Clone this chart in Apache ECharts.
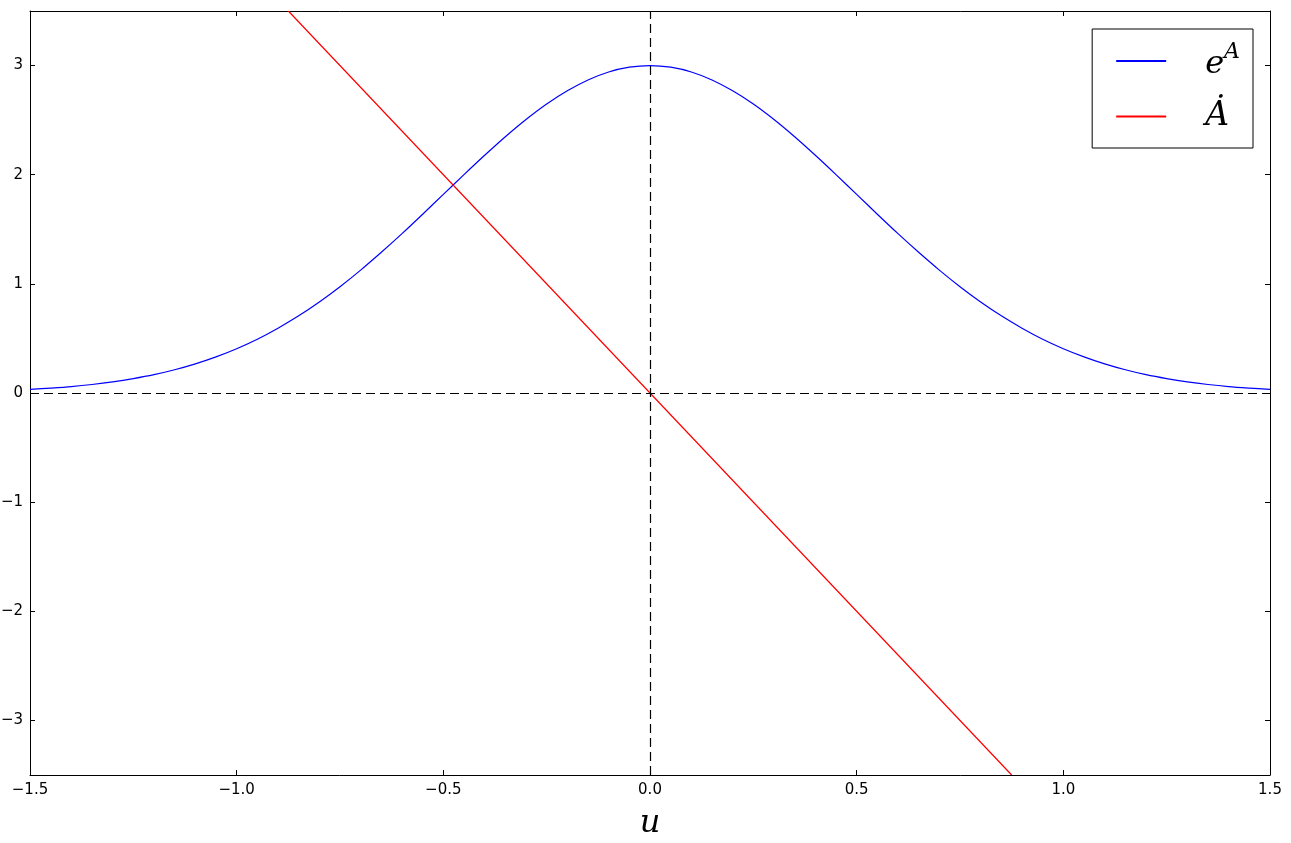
<!DOCTYPE html>
<html>
<head>
<meta charset="utf-8">
<script src="https://cdn.jsdelivr.net/npm/echarts@6/dist/echarts.min.js"></script>
<style>
  html, body { margin: 0; padding: 0; background: #fff; }
  #chart { width: 1291px; height: 843px; }
</style>
</head>
<body>
<div id="chart"></div>
<script>
// u samples
var uValues = [-1.50, -1.45, -1.40, -1.35, -1.30, -1.25, -1.20, -1.15, -1.10, -1.05,
  -1.00, -0.95, -0.90, -0.85, -0.80, -0.75, -0.70, -0.65, -0.60, -0.55,
  -0.50, -0.45, -0.40, -0.35, -0.30, -0.25, -0.20, -0.15, -0.10, -0.05,
  0.00, 0.05, 0.10, 0.15, 0.20, 0.25, 0.30, 0.35, 0.40, 0.45,
  0.50, 0.55, 0.60, 0.65, 0.70, 0.75, 0.80, 0.85, 0.90, 0.95,
  1.00, 1.05, 1.10, 1.15, 1.20, 1.25, 1.30, 1.35, 1.40, 1.45, 1.50];
// blue curve e^A
var expA = [0.033, 0.045, 0.059, 0.078, 0.102, 0.132, 0.168, 0.213, 0.267, 0.331,
  0.406, 0.493, 0.594, 0.707, 0.834, 0.974, 1.126, 1.289, 1.460, 1.638,
  1.820, 2.001, 2.178, 2.348, 2.506, 2.648, 2.769, 2.868, 2.941, 2.985,
  3.000, 2.985, 2.941, 2.868, 2.769, 2.648, 2.506, 2.348, 2.178, 2.001,
  1.820, 1.638, 1.460, 1.289, 1.126, 0.974, 0.834, 0.707, 0.594, 0.493,
  0.406, 0.331, 0.267, 0.213, 0.168, 0.132, 0.102, 0.078, 0.059, 0.045, 0.033];
// red line A-dot (points where it leaves the frame)
var aDotU = [-0.875, 0.0, 0.875];
var aDot = [3.5, 0.0, -3.5];

var yTicks = [-3, -2, -1, 0, 1, 2, 3];

function minus(s) { return String(s).replace('-', '\u2212'); }

var chartDom = document.getElementById('chart');
var myChart = echarts.init(chartDom);

var axisLine = { show: true, onZero: false, lineStyle: { color: '#000', width: 1 } };
var tick = { show: true, inside: true, length: 5, lineStyle: { color: '#000', width: 1 } };
var tickFont = { color: '#000', fontSize: 15, fontFamily: 'DejaVu Sans' };

var option = {
  backgroundColor: '#fff',
  animation: false,
  grid: { left: 30, right: 21, top: 11, bottom: 68, containLabel: false, outerBoundsMode: 'none' },
  legend: {
    orient: 'vertical',
    right: 38,
    top: 29,
    padding: [12, 13, 15, 23],
    borderColor: '#000',
    borderWidth: 1,
    borderRadius: 0,
    itemWidth: 50,
    itemHeight: 14,
    itemGap: 19,
    itemStyle: { opacity: 0 },
    data: ['eA', 'Adot'],
    formatter: function (name) {
      if (name === 'eA') return '{e|e}{s|A}';
      return '{a|\u0226}';
    },
    textStyle: {
      rich: {
        e: { fontFamily: 'DejaVu Serif', fontStyle: 'italic', fontSize: 32, lineHeight: 40,
             padding: [0, 0, 0, 34], verticalAlign: 'bottom', color: '#000' },
        s: { fontFamily: 'DejaVu Serif', fontStyle: 'italic', fontSize: 22, lineHeight: 40,
             verticalAlign: 'top', color: '#000' },
        a: { fontFamily: 'DejaVu Serif', fontStyle: 'italic', fontSize: 33, lineHeight: 40,
             padding: [0, 0, 0, 34], color: '#000' }
      }
    }
  },
  xAxis: [
    {
      type: 'value', min: -1.5, max: 1.5, interval: 0.5, position: 'bottom',
      name: 'u', nameLocation: 'middle', nameGap: 33,
      nameTextStyle: { fontFamily: 'DejaVu Serif', fontStyle: 'italic', fontSize: 32, color: '#000' },
      axisLine: axisLine, axisTick: tick, splitLine: { show: false },
      axisLabel: Object.assign({ margin: 8, formatter: function (v) { return minus(v.toFixed(1)); } }, tickFont)
    },
    {
      type: 'value', min: -1.5, max: 1.5, interval: 0.5, position: 'top',
      axisLine: axisLine, axisTick: tick, splitLine: { show: false }, axisLabel: { show: false }
    }
  ],
  yAxis: [
    {
      type: 'value', min: -3.5, max: 3.5, position: 'left',
      axisLine: axisLine,
      axisTick: Object.assign({ customValues: yTicks }, tick),
      splitLine: { show: false },
      axisLabel: Object.assign({ margin: 7, customValues: yTicks, formatter: function (v) { return minus(v); } }, tickFont)
    },
    {
      type: 'value', min: -3.5, max: 3.5, position: 'right',
      axisLine: axisLine,
      axisTick: Object.assign({ customValues: yTicks }, tick),
      splitLine: { show: false }, axisLabel: { show: false }
    }
  ],
  series: [
    {
      name: 'eA',
      type: 'line',
      data: uValues.map(function (u, i) { return [u, expA[i]]; }),
      symbol: 'none',
      smooth: 0.3,
      lineStyle: { color: '#0000ff', width: 1.2 },
      itemStyle: { color: '#0000ff' },
      markLine: {
        silent: true,
        symbol: 'none',
        label: { show: false },
        lineStyle: { color: '#000', width: 1.2, type: [9, 5] },
        data: [{ xAxis: 0 }, { yAxis: 0 }]
      },
      z: 3
    },
    {
      name: 'Adot',
      type: 'line',
      data: aDotU.map(function (u, i) { return [u, aDot[i]]; }),
      symbol: 'none',
      lineStyle: { color: '#ff0000', width: 1.2 },
      itemStyle: { color: '#ff0000' },
      z: 3
    }
  ]
};

option && myChart.setOption(option);
</script>
</body>
</html>
